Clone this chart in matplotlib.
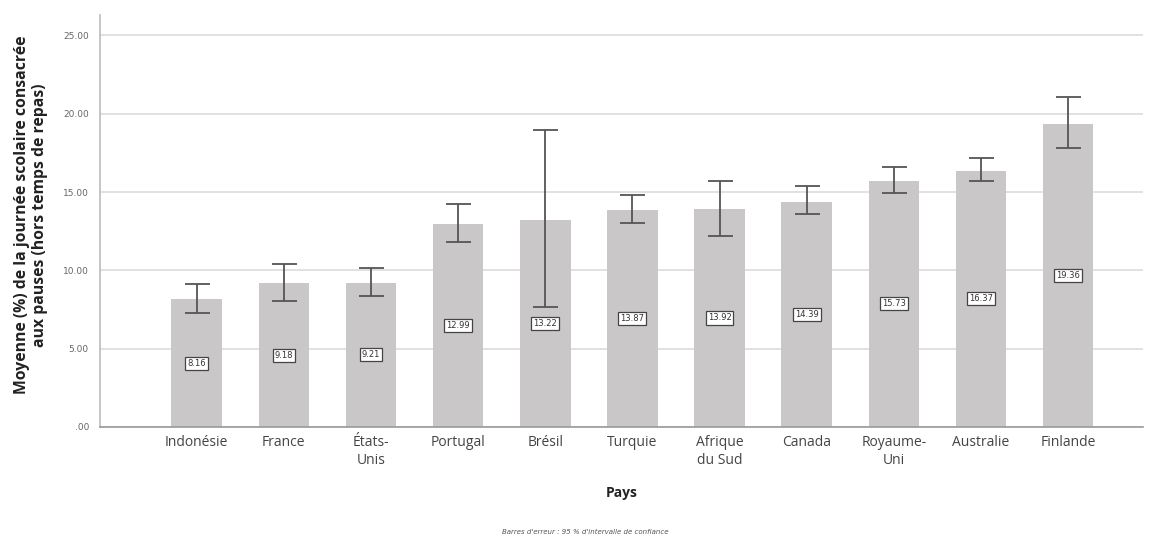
import numpy as np
import matplotlib.pyplot as plt

# Data
pays = ['Indonésie', 'France', 'États-\nUnis', 'Portugal', 'Brésil', 'Turquie',
        'Afrique\ndu Sud', 'Canada', 'Royaume-\nUni', 'Australie', 'Finlande']
moyenne = [8.16, 9.18, 9.21, 12.99, 13.22, 13.87, 13.92, 14.39, 15.73, 16.37, 19.36]
ic_bas = [7.29, 8.06, 8.38, 11.83, 7.67, 13.04, 12.21, 13.62, 14.96, 15.73, 17.84]
ic_haut = [9.14, 10.42, 10.17, 14.26, 18.93, 14.83, 15.73, 15.41, 16.62, 17.20, 21.04]
yticks = [0, 5, 10, 15, 20, 25]
ytick_labels = ['.00', '5.00', '10.00', '15.00', '20.00', '25.00']

x = np.arange(len(pays))
moy = np.array(moyenne)
err = [moy - np.array(ic_bas), np.array(ic_haut) - moy]

fig = plt.figure(figsize=(11.55, 5.37), dpi=100)
ax = fig.add_axes([100 / 1155, 1 - 427 / 537, 1043 / 1155, 412 / 537])

ax.bar(x, moy, width=0.58, color='#c9c7c7', zorder=2)
ax.errorbar(x, moy, yerr=err, fmt='none', ecolor='#555555', elinewidth=1.3,
            capsize=9, capthick=1.3, zorder=3)

# value labels in the middle of each bar
for xi, m in zip(x, moyenne):
    ax.text(xi, m / 2, f'{m:.2f}', ha='center', va='center', fontsize=6,
            color='#333333', zorder=4,
            bbox=dict(boxstyle='square,pad=0.25', fc='white', ec='#444444', lw=0.9))

ax.set_xlim(-1.11, 10.86)
ax.set_ylim(0, 26.3)
ax.set_yticks(yticks)
ax.set_yticklabels(ytick_labels, fontsize=6.5, color='#666666')
ax.set_xticks(x)
ax.set_xticklabels(pays, fontsize=10, color='#444444', family='Open Sans')
ax.tick_params(axis='both', length=0, pad=6)
ax.tick_params(axis='y', pad=8)

ax.grid(axis='y', color='#dcdcdc', lw=1.2, zorder=0)
for s in ['top', 'right']:
    ax.spines[s].set_visible(False)
ax.spines['left'].set_color('#bbbbbb')
ax.spines['bottom'].set_color('#999999')
ax.spines['left'].set_linewidth(1.2)
ax.spines['bottom'].set_linewidth(1.2)

ax.set_xlabel('Pays', fontsize=10, fontweight='bold', color='#222222',
              family='Open Sans', labelpad=13)
fig.text(31 / 1155, 1 - 215 / 537,
         'Moyenne (%) de la journée scolaire consacrée\naux pauses (hors temps de repas)',
         rotation=90, ha='center', va='center', multialignment='center',
         fontsize=11.3, fontweight='bold', color='#222222', family='Open Sans',
         linespacing=1.2)

fig.text(585 / 1155, 1 - 532 / 537, "Barres d'erreur : 95 % d'intervalle de confiance",
         ha='center', va='center', fontsize=5, style='italic', color='#555555')

fig.savefig('out.png', dpi=100)
